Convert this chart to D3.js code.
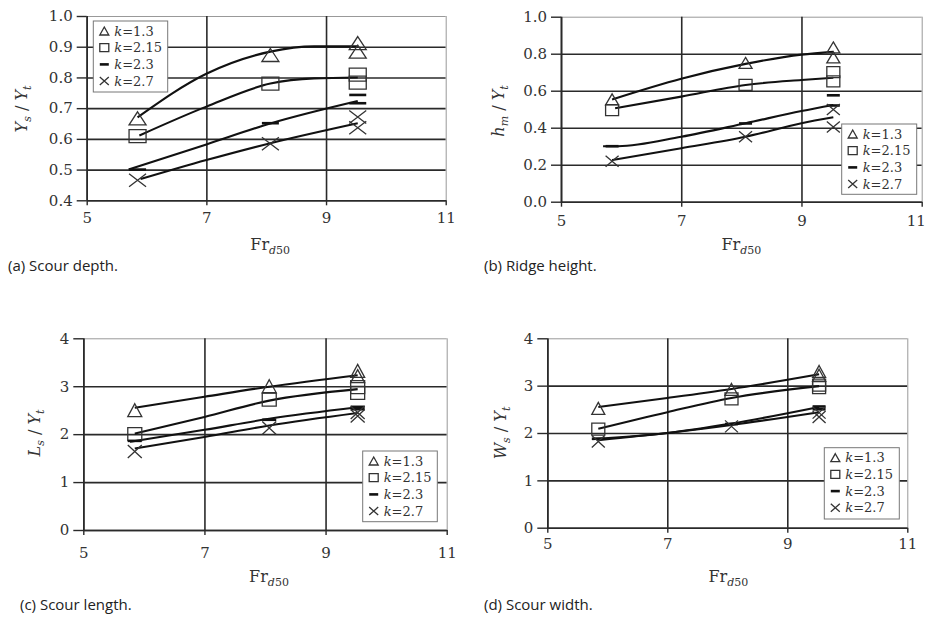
<!DOCTYPE html>
<html><head><meta charset="utf-8">
<script src="https://cdn.jsdelivr.net/npm/d3@7"></script>
<style>body{margin:0;background:#fff;} svg{display:block;}
.serif{font-family:"DejaVu Serif","Liberation Serif",serif;}
</style>
</head><body>
<svg id="chart" width="928" height="619"></svg>
<script>
// ---------- shared ----------
const legendK = ["1.3", "2.15", "2.3", "2.7"];
const markerTypes = ["triangle", "square", "dash", "cross"];
const xTicks = [5, 7, 9, 11];
const frPoints = [5.85, 8.07, 9.53, 9.53];

// ---------- (a) Scour depth ----------
const depthTicks = [0.4, 0.5, 0.6, 0.7, 0.8, 0.9, 1.0];
const depthTri   = [0.667, 0.873, 0.912, 0.884];
const depthSq    = [0.609, 0.780, 0.809, 0.783];
const depthDash  = [0.500, 0.651, 0.743, 0.716];
const depthCross = [0.465, 0.584, 0.671, 0.636];
const depthTrendTri   = [[5.85, 0.670], [7, 0.812], [8.07, 0.884], [8.8, 0.901], [9.53, 0.901]];
const depthTrendSq    = [[5.88, 0.611], [7, 0.705], [8.07, 0.780], [8.8, 0.797], [9.53, 0.800]];
const depthTrendDash  = [[5.70, 0.500], [7, 0.582], [8.07, 0.650], [9.53, 0.723]];
const depthTrendCross = [[5.90, 0.469], [7, 0.531], [8.07, 0.586], [9.53, 0.651]];

// ---------- (b) Ridge height ----------
const ridgeTicks = [0.0, 0.2, 0.4, 0.6, 0.8, 1.0];
const ridgeTri   = [0.553, 0.750, 0.834, 0.780];
const ridgeSq    = [0.495, 0.631, 0.700, 0.650];
const ridgeDash  = [0.300, 0.423, 0.575, 0.520];
const ridgeCross = [0.218, 0.351, 0.499, 0.404];
const ridgeTrendTri   = [[5.85, 0.553], [7, 0.665], [8.07, 0.745], [9, 0.795], [9.53, 0.810]];
const ridgeTrendSq    = [[5.90, 0.505], [7, 0.568], [8.07, 0.631], [9, 0.658], [9.53, 0.670]];
const ridgeTrendDash  = [[5.70, 0.300], [5.95, 0.300], [7, 0.351], [8.07, 0.424], [9, 0.490], [9.53, 0.523]];
const ridgeTrendCross = [[5.85, 0.225], [7, 0.289], [8.07, 0.351], [9, 0.424], [9.53, 0.456]];

// ---------- (c) Scour length ----------
const lengthTicks = [0, 1, 2, 3, 4];
const lengthTri   = [2.50, 3.00, 3.32, 3.21];
const lengthSq    = [2.00, 2.72, 2.98, 2.86];
const lengthDash  = [1.86, 2.30, 2.57, 2.52];
const lengthCross = [1.64, 2.13, 2.45, 2.38];
const lengthTrendTri   = [[5.85, 2.55], [7, 2.78], [8.07, 2.99], [9.53, 3.23]];
const lengthTrendSq    = [[5.85, 2.01], [7, 2.36], [8.07, 2.70], [9.53, 2.94]];
const lengthTrendDash  = [[5.77, 1.84], [7, 2.09], [8.07, 2.32], [9.53, 2.56]];
const lengthTrendCross = [[5.85, 1.70], [7, 1.94], [8.07, 2.18], [9.53, 2.44]];

// ---------- (d) Scour width ----------
const widthTicks = [0, 1, 2, 3, 4];
const widthTri   = [2.52, 2.92, 3.30, 3.22];
const widthSq    = [2.08, 2.72, 3.01, 2.96];
const widthDash  = [1.88, 2.19, 2.56, 2.50];
const widthCross = [1.82, 2.14, 2.43, 2.34];
const widthTrendTri   = [[5.85, 2.55], [7, 2.74], [8.07, 2.93], [9.53, 3.24]];
const widthTrendSq    = [[5.85, 2.09], [7, 2.44], [8.07, 2.74], [9.53, 2.99]];
const widthTrendDash  = [[5.75, 1.87], [7, 2.00], [8.07, 2.20], [9.53, 2.55]];
const widthTrendCross = [[5.85, 1.85], [7, 2.00], [8.07, 2.17], [9.53, 2.44]];

// ---------- drawing ----------
const svg = d3.select("#chart");
const ink = "#2a2a2a";

function markerPath(type, w, h) {
  const a = w / 2, b = h / 2;
  if (type === "triangle") return `M0,${-b}L${a},${b}L${-a},${b}Z`;
  if (type === "square") return `M${-a},${-b}H${a}V${b}H${-a}Z`;
  if (type === "dash") return `M${-a},0H${a}`;
  return `M${-a},${-b}L${a},${b}M${-a},${b}L${a},${-b}`;
}

function drawMarker(g, type, cx, cy, w, h) {
  g.append("path")
    .attr("transform", `translate(${cx},${cy})`)
    .attr("d", markerPath(type, w, h))
    .attr("fill", "none")
    .attr("stroke", type === "dash" ? "#111" : "#333")
    .attr("stroke-width", type === "dash" ? 2.6 : 1.3);
}

function styleText(sel, size) {
  sel.attr("class", "serif").attr("font-family", null)
    .style("font-family", '"DejaVu Serif","Liberation Serif",serif')
    .attr("font-size", size).attr("fill", "#333");
}

function drawPanel(p) {
  const g = svg.append("g");
  const x = d3.scaleLinear().domain([5, 11]).range([p.left, p.right]);
  const y = d3.scaleLinear().domain([p.yTicks[0], p.yTicks[p.yTicks.length - 1]]).range([p.bottom, p.top]);
  const W = p.right - p.left, H = p.bottom - p.top;

  // horizontal grid
  const hg = g.append("g").attr("transform", `translate(${p.left},0)`)
    .call(d3.axisLeft(y).tickValues(p.yTicks).tickSize(-W).tickFormat(""));
  hg.select(".domain").remove();
  hg.selectAll(".tick line").attr("stroke", ink).attr("stroke-width", 1.6);
  hg.selectAll(".tick").filter(d => d === p.yTicks[p.yTicks.length - 1])
    .select("line").attr("stroke", "#999").attr("stroke-width", 1);

  // vertical grid
  const vg = g.append("g").attr("transform", `translate(0,${p.bottom})`)
    .call(d3.axisBottom(x).tickValues(xTicks).tickSize(-H).tickFormat(""));
  vg.select(".domain").remove();
  vg.selectAll(".tick line").attr("stroke", ink).attr("stroke-width", 1.6);
  vg.selectAll(".tick").filter(d => d === 11)
    .select("line").attr("stroke", "#999").attr("stroke-width", 1);

  // y axis with labels
  const ya = g.append("g").attr("transform", `translate(${p.left},0)`)
    .call(d3.axisLeft(y).tickValues(p.yTicks).tickSize(10).tickSizeOuter(0).tickPadding(4)
      .tickFormat(p.yFormat));
  ya.attr("font-family", null);
  ya.select(".domain").attr("stroke", ink).attr("stroke-width", 1.6);
  ya.selectAll(".tick line").attr("stroke", ink).attr("stroke-width", 1.4);
  styleText(ya.selectAll("text"), 15);

  // x axis with labels
  const xa = g.append("g").attr("transform", `translate(0,${p.bottom})`)
    .call(d3.axisBottom(x).tickValues(xTicks).tickSize(5).tickSizeOuter(0).tickPadding(p.xPad)
      .tickFormat(d3.format("d")));
  xa.attr("font-family", null);
  xa.select(".domain").attr("stroke", ink).attr("stroke-width", 1.6);
  xa.selectAll(".tick line").attr("stroke", ink).attr("stroke-width", 1.4);
  styleText(xa.selectAll("text"), 15);
  if (p.lastDx) xa.selectAll(".tick").filter(d => d === 11).select("text").attr("dx", p.lastDx);

  // trend lines
  const line = d3.line().x(d => x(d[0])).y(d => y(d[1])).curve(d3.curveMonotoneX);
  p.trends.forEach(t => {
    g.append("path").attr("d", line(t)).attr("fill", "none")
      .attr("stroke", "#111").attr("stroke-width", 2.1);
  });

  // markers
  p.series.forEach((vals, i) => {
    vals.forEach((v, j) => drawMarker(g, markerTypes[i], x(frPoints[j]), y(v), p.mw, p.mh));
  });

  // legend
  const L = p.legend;
  const lg = g.append("g").attr("transform", `translate(${L.x},${L.y})`);
  lg.append("rect").attr("width", L.w).attr("height", L.h)
    .attr("fill", "#fff").attr("stroke", "#777").attr("stroke-width", 1);
  legendK.forEach((k, i) => {
    const cy = 10 + i * 16.7;
    drawMarker(lg, markerTypes[i], 11, cy, 9, 8);
    const t = lg.append("text").attr("x", 21).attr("y", cy + 4.5);
    styleText(t, 13);
    t.append("tspan").attr("font-style", "italic").text("k");
    t.append("tspan").text("=" + k);
  });

  // y title
  const yt = g.append("text")
    .attr("transform", `translate(${p.ylab[0]},${p.ylab[1]}) rotate(-90)`)
    .attr("text-anchor", "middle");
  styleText(yt, 16);
  yt.append("tspan").attr("font-style", "italic").text(p.yVar);
  yt.append("tspan").attr("font-style", "italic").attr("font-size", 11).attr("dy", 4).text(p.ySub);
  yt.append("tspan").attr("dy", -4).text(" / ");
  yt.append("tspan").attr("font-style", "italic").text("Y");
  yt.append("tspan").attr("font-style", "italic").attr("font-size", 11).attr("dy", 4).text("t");

  // x title
  const xt = g.append("text").attr("x", (p.left + p.right) / 2 + p.xtDx).attr("y", p.bottom + p.xtDy)
    .attr("text-anchor", "middle");
  styleText(xt, 16);
  xt.append("tspan").text("Fr");
  xt.append("tspan").attr("font-size", 11).attr("dy", 4).attr("font-style", "italic").text("d");
  xt.append("tspan").attr("font-size", 11).text("50");

  // caption
  svg.append("text").attr("x", p.cap[0]).attr("y", p.cap[1])
    .style("font-family", '"Open Sans","Noto Sans",sans-serif').attr("font-size", 15).attr("fill", "#222")
    .text(p.caption);
}

drawPanel({
  left: 86.7, right: 445.7, top: 16, bottom: 200.3,
  yTicks: depthTicks, yFormat: d3.format(".1f"), xPad: 7,
  series: [depthTri, depthSq, depthDash, depthCross],
  trends: [depthTrendTri, depthTrendSq, depthTrendDash, depthTrendCross],
  mw: 17, mh: 13,
  legend: {x: 93.3, y: 21, w: 74.4, h: 71},
  yVar: "Y", ySub: "s", ylab: [27, 109],
  xtDx: 4, xtDy: 50,
  cap: [8, 271], caption: "(a) Scour depth."
});

drawPanel({
  left: 561, right: 921.7, top: 16.7, bottom: 201.7,
  yTicks: ridgeTicks, yFormat: d3.format(".1f"), xPad: 9, lastDx: -6,
  series: [ridgeTri, ridgeSq, ridgeDash, ridgeCross],
  trends: [ridgeTrendTri, ridgeTrendSq, ridgeTrendDash, ridgeTrendCross],
  mw: 13, mh: 11,
  legend: {x: 841.7, y: 124, w: 75, h: 70.3},
  yVar: "h", ySub: "m", ylab: [504, 111],
  xtDx: 0, xtDy: 48,
  cap: [484, 271], caption: "(b) Ridge height."
});

drawPanel({
  left: 83.3, right: 446.7, top: 338.3, bottom: 530,
  yTicks: lengthTicks, yFormat: d3.format("d"), xPad: 12,
  series: [lengthTri, lengthSq, lengthDash, lengthCross],
  trends: [lengthTrendTri, lengthTrendSq, lengthTrendDash, lengthTrendCross],
  mw: 14, mh: 13,
  legend: {x: 362.7, y: 451, w: 74.6, h: 70.7},
  yVar: "L", ySub: "s", ylab: [40, 433],
  xtDx: 4, xtDy: 52,
  cap: [20, 610], caption: "(c) Scour length."
});

drawPanel({
  left: 547.3, right: 907.3, top: 338.3, bottom: 527.7,
  yTicks: widthTicks, yFormat: d3.format("d"), xPad: 6,
  series: [widthTri, widthSq, widthDash, widthCross],
  trends: [widthTrendTri, widthTrendSq, widthTrendDash, widthTrendCross],
  mw: 13, mh: 12,
  legend: {x: 824.3, y: 447.7, w: 75, h: 71.3},
  yVar: "W", ySub: "s", ylab: [506, 433],
  xtDx: 1, xtDy: 54,
  cap: [484, 610], caption: "(d) Scour width."
});
</script>
</body></html>
